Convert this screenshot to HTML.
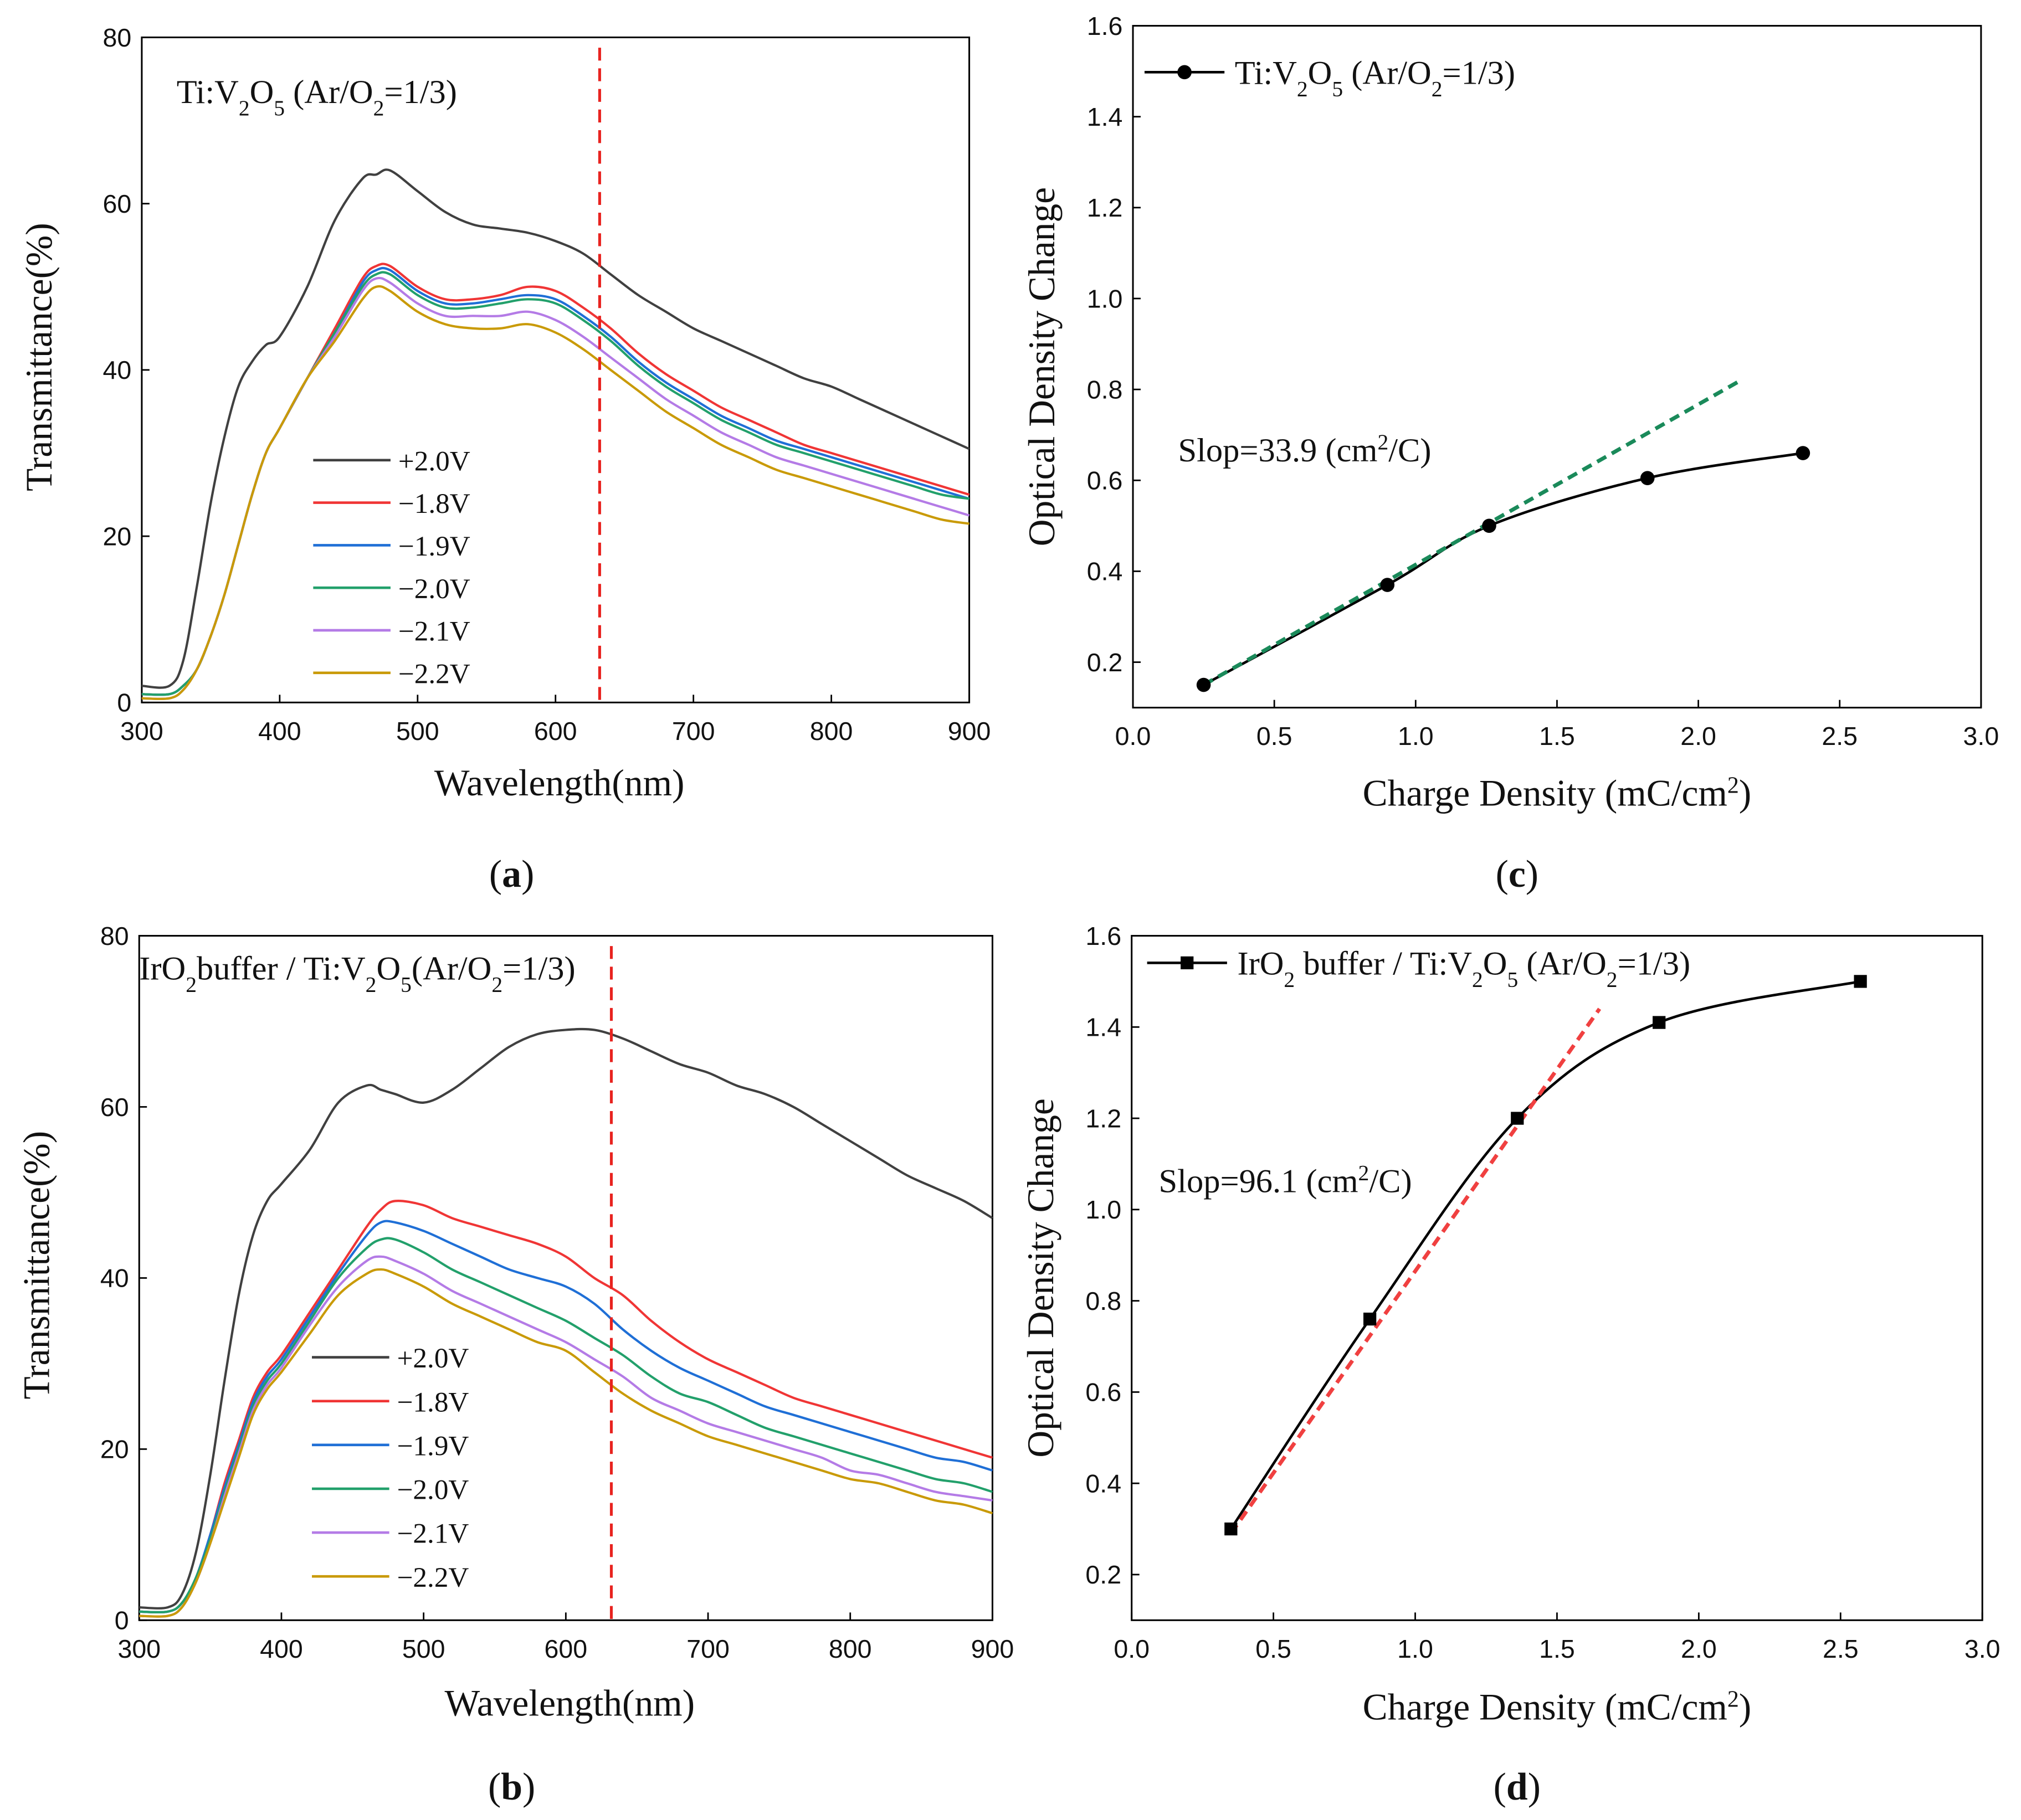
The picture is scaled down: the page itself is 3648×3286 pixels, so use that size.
<!DOCTYPE html>
<html><head><meta charset="utf-8">
<style>
html,body{margin:0;padding:0;background:#fff;}
svg{display:block;}
text{font-family:"Liberation Serif",serif;fill:#111;}
.tick{font-family:"Liberation Sans",sans-serif;font-size:20px;}
.title{font-size:29px;}
.lab{font-size:26px;}
</style></head>
<body>
<svg id="fig" width="3648" height="3286" viewBox="0 0 1568 1412" preserveAspectRatio="none" xmlns="http://www.w3.org/2000/svg">
<rect width="1568" height="1412" fill="#fff"/>
</svg>
<script>
// ---- data ----
const wl = [300,320,330,340,350,360,370,380,390,400,420,440,460,470,480,500,520,540,560,580,600,620,640,660,680,700,720,740,760,780,800,820,840,860,880,900];
const voltLabels = ["+2.0V","\u22121.8V","\u22121.9V","\u22122.0V","\u22122.1V","\u22122.2V"];
const aP20 = [2,2,5,14,24,32,38,41,43,44,50,58,63,63.5,64,61.5,59,57.5,57,56.5,55.5,54,51.5,49,47,45,43.5,42,40.5,39,38,36.5,35,33.5,32,30.5];
const aM18 = [1,1,2,4,8,13,19,25,30,33,39,45,51,52.5,52.5,50,48.5,48.5,49,50,49.5,47.5,45,42,39.5,37.5,35.5,34,32.5,31,30,29,28,27,26,25];
const aM19 = [1,1,2,4,8,13,19,25,30,33,39,44.5,50.5,52,52,49.5,48,48,48.5,49,48.5,46.5,44,41,38.5,36.5,34.5,33,31.5,30.5,29.5,28.5,27.5,26.5,25.5,24.5];
const aM20 = [1,1,2,4,8,13,19,25,30,33,39,44.5,50,51.5,51.5,49,47.5,47.5,48,48.5,48,46,43.5,40.5,38,36,34,32.5,31,30,29,28,27,26,25,24.5];
const aM21 = [0.5,0.5,1.5,4,8,13,19,25,30,33,39,44,49.5,51,50.5,48,46.5,46.5,46.5,47,46,44,41.5,39,36.5,34.5,32.5,31,29.5,28.5,27.5,26.5,25.5,24.5,23.5,22.5];
const aM22 = [0.5,0.5,1.5,4,8,13,19,25,30,33,39,43.5,48.5,50,49.5,47,45.5,45,45,45.5,44.5,42.5,40,37.5,35,33,31,29.5,28,27,26,25,24,23,22,21.5];
const bP20 = [1.5,1.5,3,8,17,28,38,45,49,51,55,60.5,62.5,62,61.5,60.5,62,64.5,67,68.5,69,69,68,66.5,65,64,62.5,61.5,60,58,56,54,52,50.5,49,47];
const bM18 = [1,1,2,5,10,16,21,26,29,31,36,41,46,48,49,48.5,47,46,45,44,42.5,40,38,35,32.5,30.5,29,27.5,26,25,24,23,22,21,20,19];
const bM19 = [1,1,2,5,10,15.5,20.5,25.5,28.5,30.5,35.5,40.5,45,46.5,46.5,45.5,44,42.5,41,40,39,37,34,31.5,29.5,28,26.5,25,24,23,22,21,20,19,18.5,17.5];
const bM20 = [1,1,2,5,9.5,15,20,25,28,30,35,40,43.5,44.5,44.5,43,41,39.5,38,36.5,35,33,31,28.5,26.5,25.5,24,22.5,21.5,20.5,19.5,18.5,17.5,16.5,16,15];
const bM21 = [0.5,0.5,1.5,4.5,9,14.5,19.5,24.5,27.5,29.5,34.5,39,42,42.5,42,40.5,38.5,37,35.5,34,32.5,30.5,28.5,26,24.5,23,22,21,20,19,17.5,17,16,15,14.5,14];
const bM22 = [0.5,0.5,1.5,4.5,9,14,19,24,27,29,33.5,38,40.5,41,40.5,39,37,35.5,34,32.5,31.5,29,26.5,24.5,23,21.5,20.5,19.5,18.5,17.5,16.5,16,15,14,13.5,12.5];
const cX = [0.25,0.9,1.26,1.82,2.37];
const cY = [0.15,0.37,0.5,0.605,0.66];
const cFit = [[0.25,0.15],[2.15,0.82]];
const dX = [0.35,0.84,1.36,1.86,2.57];
const dY = [0.3,0.76,1.2,1.41,1.5];
const dFit = [[0.35,0.29],[1.65,1.44]];
const wlTicks = [300,400,500,600,700,800,900];
const tTicks = [0,20,40,60,80];
const qTicks = [0.0,0.5,1.0,1.5,2.0,2.5,3.0];
const odTicks = [0.2,0.4,0.6,0.8,1.0,1.2,1.4,1.6];
const colors = ["#404040","#f03535","#1f6fd6","#22a06b","#b47be6","#c99a06"];

const NS="http://www.w3.org/2000/svg";
const svg=document.getElementById('fig');
function el(tag,attrs,parent){const e=document.createElementNS(NS,tag);for(const k in attrs)e.setAttribute(k,attrs[k]);(parent||svg).appendChild(e);return e;}
function lin(d0,d1,r0,r1){return v=>r0+(v-d0)*(r1-r0)/(d1-d0);}
function smoothPath(pts){let d="M"+pts[0][0]+","+pts[0][1];for(let i=0;i<pts.length-1;i++){const p0=pts[Math.max(0,i-1)],p1=pts[i],p2=pts[i+1],p3=pts[Math.min(pts.length-1,i+2)];const c1=[p1[0]+(p2[0]-p0[0])/6,p1[1]+(p2[1]-p0[1])/6],c2=[p2[0]-(p3[0]-p1[0])/6,p2[1]-(p3[1]-p1[1])/6];d+=`C${c1[0]},${c1[1]} ${c2[0]},${c2[1]} ${p2[0]},${p2[1]}`;}return d;}

function axesFrame(g,x0,x1,y0,y1,xs,ys,xT,yT,xFmt,yFmt,name){
  const f=el('rect',{x:x0,y:y0,width:x1-x0,height:y1-y0,fill:'none',stroke:'#000','stroke-width':1.3},g);
  
  xT.forEach(v=>{const x=xs(v);el('line',{x1:x,x2:x,y1:y1,y2:y1-6,stroke:'#000','stroke-width':1.2},g);
    const t=el('text',{x:x,y:y1+29,'text-anchor':'middle',class:'tick'},g);t.textContent=xFmt(v);
    });
  yT.forEach(v=>{const y=ys(v);el('line',{x1:x0,x2:x0+6,y1:y,y2:y,stroke:'#000','stroke-width':1.2},g);
    const t=el('text',{x:x0-8,y:y+7,'text-anchor':'end',class:'tick'},g);t.textContent=yFmt(v);
    });
}

function spectrum(name,x0,x1,y0,y1,series,legY,legX,titleHTML,titleX,titleY,xTitleY,dashX){
  const g=el('g',{});
  const xs=lin(300,900,x0,x1), ys=lin(0,80,y1,y0);
  axesFrame(g,x0,x1,y0,y1,xs,ys,wlTicks,tTicks,v=>v,v=>v,name);
  series.forEach((s,i)=>{const p=el('path',{d:smoothPath(wl.map((w,j)=>[xs(w),ys(s[j])])),fill:'none',stroke:colors[i],'stroke-width':1.8},g);
    
    
    const y=legY+i*(name==='panel-a'?33:34);
    const l=el('line',{x1:legX,x2:legX+60,y1:y,y2:y,stroke:colors[i],'stroke-width':2},g);
    
    const t=el('text',{x:legX+66,y:y+8,class:'lab',style:'font-size:22px'},g);t.textContent=voltLabels[i];
    });
  const dl=el('line',{x1:xs(dashX),x2:xs(dashX),y1:y0+8,y2:y1,stroke:'#e8231f','stroke-width':2.2,'stroke-dasharray':'10,6'},g);
  
  const tt=el('text',{x:titleX,y:titleY,class:'lab'},g);tt.innerHTML=titleHTML;
  
  const xt=el('text',{x:(x0+x1)/2+3,y:xTitleY,'text-anchor':'middle',class:'title'},g);xt.textContent='Wavelength(nm)';
  
  const yt=el('text',{x:0,y:0,'text-anchor':'middle',class:'title',transform:`translate(${x0-70},${(y0+y1)/2-10}) rotate(-90)`},g);yt.textContent='Transmittance(%)';
  
}

function odPanel(name,x0,x1,y0,y1,X,Y,fit,fitColor,marker,legHTML,slopeHTML,slopeX,slopeY,xTitleY,legX,legY){
  const g=el('g',{});
  const xs=lin(0,3,x0,x1), ys=lin(0.1,1.6,y1,y0);
  axesFrame(g,x0,x1,y0,y1,xs,ys,qTicks,odTicks,v=>v.toFixed(1),v=>v.toFixed(1),name);
  const p=el('path',{d:smoothPath(X.map((x,i)=>[xs(x),ys(Y[i])])),fill:'none',stroke:'#000','stroke-width':2},g);
  
  const fl=el('line',{x1:xs(fit[0][0]),y1:ys(fit[0][1]),x2:xs(fit[1][0]),y2:ys(fit[1][1]),stroke:fitColor,'stroke-width':3,'stroke-dasharray':'8,5'},g);
  
  function mk(cx,cy){let m;if(marker==='circle')m=el('circle',{cx,cy,r:5.5,fill:'#000'},g);else m=el('rect',{x:cx-5,y:cy-5,width:10,height:10,fill:'#000'},g);return m;}
  X.forEach((x,i)=>{const m=mk(xs(x),ys(Y[i]));});
  el('line',{x1:legX,x2:legX+62,y1:legY,y2:legY,stroke:'#000','stroke-width':2},g);
  const lm=mk(legX+31,legY);
  const lt=el('text',{x:legX+70,y:legY+9,class:'lab'},g);lt.innerHTML=legHTML;
  
  const st=el('text',{x:slopeX,y:slopeY,class:'lab'},g);st.innerHTML=slopeHTML;
  
  const xt=el('text',{x:(x0+x1)/2,y:xTitleY,'text-anchor':'middle',class:'title'},g);
  xt.innerHTML='Charge Density (mC/cm<tspan baseline-shift="super" font-size="18">2</tspan>)';
  
  const yt=el('text',{x:0,y:0,'text-anchor':'middle',class:'title',transform:`translate(${x0-61},${(y0+y1)/2}) rotate(-90)`},g);yt.textContent='Optical Density Change';
  
}

const sub=s=>`<tspan baseline-shift="sub" font-size="17">${s}</tspan>`;
spectrum('panel-a',110,752,29,545,[aP20,aM18,aM19,aM20,aM21,aM22],357,243,
 `Ti:V${sub(2)}O${sub(5)} (Ar/O${sub(2)}=1/3)`,137,80,617,632);
spectrum('panel-b',108,770,726,1257,[bP20,bM18,bM19,bM20,bM21,bM22],1053,242,
 `IrO${sub(2)}buffer / Ti:V${sub(2)}O${sub(5)}(Ar/O${sub(2)}=1/3)`,108,760,1331,632);
odPanel('panel-c',879,1537,20,549,cX,cY,cFit,'#1a8a5a','circle',
 `Ti:V${sub(2)}O${sub(5)}  (Ar/O${sub(2)}=1/3)`,'Slop=33.9 (cm<tspan baseline-shift="super" font-size="17">2</tspan>/C)',914,358,625,888,56);
odPanel('panel-d',878,1538,726,1257,dX,dY,dFit,'#f04040','square',
 `IrO${sub(2)} buffer / Ti:V${sub(2)}O${sub(5)} (Ar/O${sub(2)}=1/3)`,'Slop=96.1 (cm<tspan baseline-shift="super" font-size="17">2</tspan>/C)',899,925,1334,890,747);

[['(a)',397,688],['(c)',1177,688],['(b)',397,1396],['(d)',1177,1396]].forEach(a=>{
  const t=el('text',{x:a[1],y:a[2],'text-anchor':'middle',style:'font-size:30px'});
  t.innerHTML=a[0].replace(/([a-d])/,'<tspan font-weight="bold">$1</tspan>');
  
  
});
</script>
</body></html>
